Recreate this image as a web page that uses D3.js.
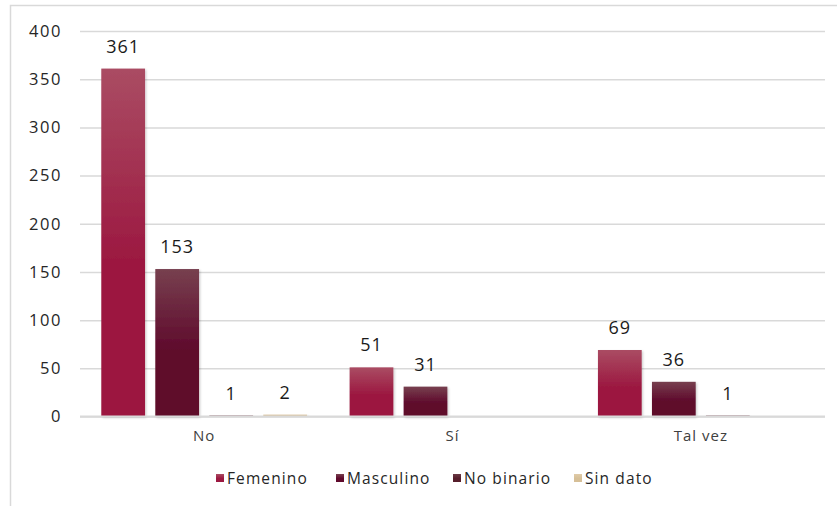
<!DOCTYPE html>
<html>
<head>
<meta charset="utf-8">
<script src="https://cdn.jsdelivr.net/npm/d3@7"></script>
<style>
  html, body { margin: 0; padding: 0; background: #fff; }
  svg { display: block; font-family: "Open Sans", "DejaVu Sans", sans-serif; }
</style>
</head>
<body>
<svg id="chart" width="837" height="506"></svg>
<script>
// Respuestas por categoría y sexo
const categories = ["No", "Sí", "Tal vez"];
const seriesNames = ["Femenino", "Masculino", "No binario", "Sin dato"];
const femenino  = [361, 51, 69];
const masculino = [153, 31, 36];
const noBinario = [1, null, 1];
const sinDato   = [2, null, null];
const yTicks = [0, 50, 100, 150, 200, 250, 300, 350, 400];

const seriesValues = [femenino, masculino, noBinario, sinDato];
const seriesTop    = ["#aa4c63", "#77404f", "#6a3a44", "#e0cba8"];
const seriesBase   = ["#9c1941", "#5f0a2c", "#561e2b", "#d6bf97"];

const svg = d3.select("#chart");
const W = 837, H = 506;
const plot = { left: 80, right: 825, top: 31, bottom: 416.5 };

// Chart frame (top and left edges)
svg.append("path")
  .attr("d", `M10.5,${H} V5.5 H${W}`)
  .attr("fill", "none").attr("stroke", "#d9d9d9").attr("stroke-width", 1.5);

const defs = svg.append("defs");
seriesNames.forEach((name, i) => {
  const g = defs.append("linearGradient")
    .attr("id", "grad" + i).attr("x1", 0).attr("y1", 0).attr("x2", 0).attr("y2", 1);
  g.append("stop").attr("offset", "0%").attr("stop-color", seriesTop[i]);
  g.append("stop").attr("offset", "55%").attr("stop-color", seriesBase[i]);
  g.append("stop").attr("offset", "100%").attr("stop-color", seriesBase[i]);
});
const shadow = defs.append("filter").attr("id", "shadow")
  .attr("x", "-20%").attr("y", "-5%").attr("width", "150%").attr("height", "115%");
shadow.append("feDropShadow")
  .attr("dx", 1.2).attr("dy", 1.2).attr("stdDeviation", 1.2)
  .attr("flood-color", "#000").attr("flood-opacity", 0.2);

const y = d3.scaleLinear().domain([0, 400]).range([plot.bottom, plot.top]);
const x0 = d3.scaleBand().domain(categories).range([plot.left, plot.right]).padding(0);
const x1 = d3.scaleBand().domain(seriesNames).range([0, x0.bandwidth()])
  .paddingInner(0.19).paddingOuter(0.394);

// Horizontal gridlines and value ticks
const yAxis = d3.axisLeft(y).tickValues(yTicks).tickSize(-(plot.right - plot.left)).tickPadding(18);
const gy = svg.append("g").attr("transform", `translate(${plot.left},0)`).call(yAxis);
gy.select(".domain").remove();
gy.selectAll(".tick line").attr("stroke", "#d9d9d9").attr("stroke-width", 1.5);
gy.selectAll(".tick text")
  .attr("font-size", 16.5).attr("fill", "#262626")
  .attr("letter-spacing", "1.6px")
  .attr("font-family", "'Open Sans', sans-serif");

// Category labels
const xAxis = d3.axisBottom(x0).tickSize(0).tickPadding(14);
const gx = svg.append("g").attr("transform", `translate(0,${plot.bottom})`).call(xAxis);
gx.select(".domain").remove();
gx.selectAll(".tick text").attr("font-size", 15).attr("fill", "#404040")
  .attr("letter-spacing", "1px")
  .attr("font-family", "'Open Sans', sans-serif");

// Bars and value labels
const groups = svg.append("g").selectAll("g")
  .data(categories).join("g")
  .attr("transform", d => `translate(${x0(d)},0)`);

groups.each(function(cat, ci) {
  const g = d3.select(this);
  seriesNames.forEach((name, si) => {
    const v = seriesValues[si][ci];
    if (v == null) return;
    g.append("rect")
      .attr("x", x1(name)).attr("width", x1.bandwidth())
      .attr("y", y(v)).attr("height", y(0) - y(v))
      .attr("fill", `url(#grad${si})`)
      .attr("filter", "url(#shadow)");
    g.append("text")
      .attr("x", x1(name) + x1.bandwidth() / 2)
      .attr("y", y(v) - 16)
      .attr("text-anchor", "middle")
      .attr("font-size", 18).attr("fill", "#1a1a1a")
      .attr("letter-spacing", "1px")
      .text(v);
  });
});

// Baseline drawn over the bars
svg.append("line")
  .attr("x1", plot.left).attr("x2", plot.right)
  .attr("y1", y(0)).attr("y2", y(0))
  .attr("stroke", "#d9d9d9").attr("stroke-width", 2);

// Legend
const legendItems = [
  { name: "Femenino", x: 216 },
  { name: "Masculino", x: 336 },
  { name: "No binario", x: 453 },
  { name: "Sin dato", x: 574 }
];
const legend = svg.append("g");
legendItems.forEach((it, i) => {
  legend.append("rect").attr("x", it.x).attr("y", 474).attr("width", 8).attr("height", 8)
    .attr("fill", `url(#grad${i})`);
  legend.append("text").attr("x", it.x + 11).attr("y", 483.5)
    .attr("font-size", 15.5).attr("fill", "#262626")
    .attr("letter-spacing", "1.1px")
    .text(it.name);
});
</script>
</body>
</html>
